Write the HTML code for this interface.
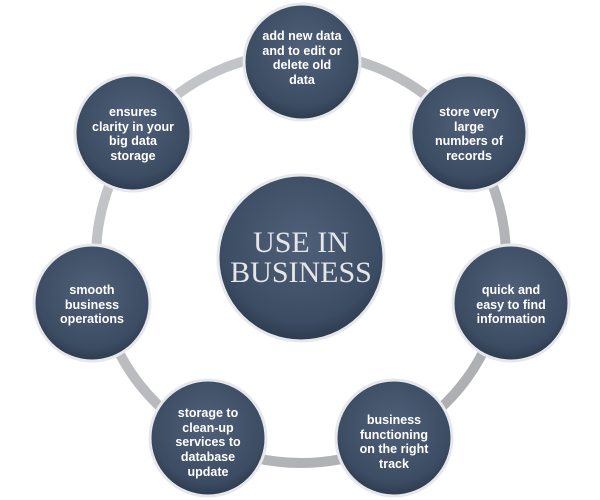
<!DOCTYPE html>
<html><head><meta charset="utf-8"><style>
html,body{margin:0;padding:0;background:#fff;}
svg{display:block}
.t{font-family:"Liberation Sans",sans-serif;font-weight:bold;font-size:12.5px;fill:#fff;text-anchor:middle}
</style></head><body>
<svg width="600" height="500" viewBox="0 0 600 500">
<defs>
<radialGradient id="g" cx="50%" cy="40%" r="60%">
<stop offset="0" stop-color="#4f6078"/><stop offset="0.8" stop-color="#3c4c63"/><stop offset="1" stop-color="#2e3b4e"/>
</radialGradient>
<linearGradient id="rg" x1="0" y1="0" x2="1" y2="1">
<stop offset="0" stop-color="#c8c9cc"/><stop offset="1" stop-color="#a9abaf"/>
</linearGradient>
</defs>
<circle cx="301" cy="258" r="205" fill="none" stroke="url(#rg)" stroke-width="10"/>
<g stroke="#e6e8ec" stroke-width="3" fill="url(#g)">
<circle cx="302" cy="62" r="58"/>
<circle cx="469" cy="133" r="58"/>
<circle cx="133" cy="133" r="58"/>
<circle cx="92" cy="303" r="58"/>
<circle cx="511" cy="303" r="58"/>
<circle cx="394" cy="438" r="58"/>
<circle cx="208" cy="438" r="58"/>
<circle cx="301" cy="258" r="83"/>
</g>
<text x="301" y="252" text-anchor="middle" font-family="Liberation Serif,serif" font-size="30" fill="#e4e6ea">USE IN</text>
<text x="301" y="282" text-anchor="middle" font-family="Liberation Serif,serif" font-size="30" fill="#e4e6ea">BUSINESS</text>
<g class="t">
<text class="t" x="302" y="40">add new data</text>
<text class="t" x="302" y="55">and to edit or</text>
<text class="t" x="302" y="69">delete old</text>
<text class="t" x="302" y="84">data</text>
<text class="t" x="469" y="116">store very</text>
<text class="t" x="469" y="131">large</text>
<text class="t" x="469" y="145">numbers of</text>
<text class="t" x="469" y="160">records</text>
<text class="t" x="133" y="116">ensures</text>
<text class="t" x="133" y="131">clarity in your</text>
<text class="t" x="133" y="145">big data</text>
<text class="t" x="133" y="160">storage</text>
<text class="t" x="92" y="294">smooth</text>
<text class="t" x="92" y="309">business</text>
<text class="t" x="92" y="323">operations</text>
<text class="t" x="511" y="294">quick and</text>
<text class="t" x="511" y="309">easy to find</text>
<text class="t" x="511" y="323">information</text>
<text class="t" x="394" y="424">business</text>
<text class="t" x="394" y="439">functioning</text>
<text class="t" x="394" y="453">on the right</text>
<text class="t" x="394" y="468">track</text>
<text class="t" x="208" y="417">storage to</text>
<text class="t" x="208" y="432">clean-up</text>
<text class="t" x="208" y="446">services to</text>
<text class="t" x="208" y="461">database</text>
<text class="t" x="208" y="476">update</text>
</g>
</svg>
</body></html>
